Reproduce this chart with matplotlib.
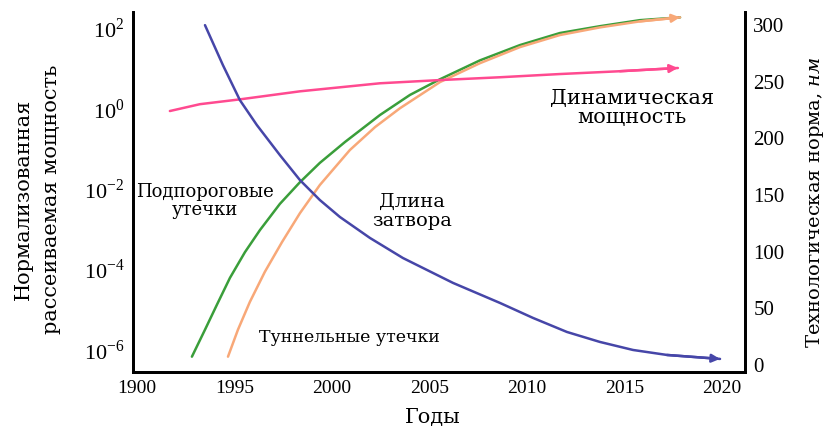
import matplotlib
matplotlib.use("Agg")
import matplotlib.pyplot as plt
import numpy as np

plt.rcParams['font.family'] = ['Liberation Serif', 'DejaVu Serif']
plt.rcParams['mathtext.fontset'] = 'custom'
plt.rcParams['mathtext.rm'] = 'Liberation Serif'
plt.rcParams['mathtext.it'] = 'DejaVu Serif:italic'
WIDE = ['DejaVu Serif']

# gate length, nm (right axis)
gate_years = [1993.49, 1994.41, 1995.28, 1996.15, 1997.33, 1998.36, 1999.38,
              2000.41, 2001.95, 2003.64, 2006.21, 2008.62, 2010.31, 2012.05,
              2013.74, 2015.44, 2017.18, 2019.90]
gate_nm = [300, 264.7, 233.8, 211.8, 185.3, 163.2, 145.6, 130.6, 112.1, 94.4,
           72.4, 54.7, 41.5, 29.1, 20.3, 13.2, 8.8, 5.3]

# subthreshold leakage, log10 of normalized power (left axis)
sub_years = [1992.82, 1993.49, 1994.10, 1994.77, 1995.54, 1996.31, 1997.33,
             1998.36, 1999.38, 2000.67, 2002.46, 2004.00, 2005.54, 2007.59,
             2009.64, 2011.69, 2013.74, 2015.79, 2017.85]
sub_log = [-6.17, -5.50, -4.88, -4.21, -3.57, -3.02, -2.37, -1.83, -1.35, -0.83,
           -0.16, 0.34, 0.73, 1.20, 1.58, 1.88, 2.05, 2.20, 2.27]

# tunnel leakage
tun_years = [1994.67, 1995.18, 1995.79, 1996.56, 1997.44, 1998.36, 1999.38,
             2000.92, 2002.21, 2003.49, 2005.54, 2007.59, 2009.64, 2011.69,
             2013.74, 2015.79, 2017.85]
tun_log = [-6.17, -5.50, -4.81, -4.06, -3.32, -2.60, -1.90, -1.03, -0.46, 0.01,
           0.66, 1.13, 1.53, 1.83, 2.02, 2.17, 2.27]

# dynamic power
dyn_years = [1991.69, 1993.23, 1995.28, 1998.36, 2002.46, 2005.54, 2008.62,
             2011.69, 2014.77, 2017.74]
dyn_log = [-0.06, 0.11, 0.23, 0.43, 0.63, 0.71, 0.78, 0.86, 0.93, 1.01]

x_ticks = [1990, 1995, 2000, 2005, 2010, 2015, 2020]
x_labels = ['1900', '1995', '2000', '2005', '2010', '2015', '2020']
left_ticks = [1e-6, 1e-4, 1e-2, 1e0, 1e2]
left_labels = ['$10^{-6}$', '$10^{-4}$', '$10^{-2}$', '$10^{0}$', '$10^{2}$']
right_ticks = [0, 50, 100, 150, 200, 250, 300]

c_blue = '#4646a8'
c_green = '#3a9e3a'
c_orange = '#f8a878'
c_pink = '#ff4a90'

fig = plt.figure(figsize=(8.25, 4.33), dpi=100)
ax = fig.add_axes([0.161, 0.141, 0.742, 0.831])
ax2 = ax.twinx()


def draw(axis, xs, ys, color, arrow):
    axis.plot(xs, ys, color=color, lw=1.8, solid_capstyle='round',
              solid_joinstyle='round')
    if arrow:
        axis.annotate('', xy=(xs[-1], ys[-1]), xytext=(xs[-2], ys[-2]),
                      arrowprops=dict(arrowstyle='-|>', color=color, lw=1.8,
                                      mutation_scale=12, shrinkA=0, shrinkB=0))


draw(ax, sub_years, 10 ** np.array(sub_log), c_green, False)
draw(ax, tun_years, 10 ** np.array(tun_log), c_orange, True)
draw(ax, dyn_years, 10 ** np.array(dyn_log), c_pink, True)
draw(ax2, gate_years, gate_nm, c_blue, True)

ax.set_yscale('log')
ax.set_xlim(1989.79, 2021.18)
ax.set_ylim(10 ** -6.55, 10 ** 2.4)
ax2.set_ylim(-6.2, 311.5)

ax.set_xticks(x_ticks)
ax.set_xticklabels(x_labels, fontsize=14)
ax.set_yticks(left_ticks)
ax.set_yticklabels(left_labels, fontsize=16)
ax.minorticks_off()
ax2.set_yticks(right_ticks)
ax2.set_yticklabels([str(v) for v in right_ticks], fontsize=15)

for a in (ax, ax2):
    a.tick_params(length=0, pad=6)
    a.spines['top'].set_visible(False)
    for s in ('left', 'right', 'bottom'):
        a.spines[s].set_linewidth(2)

fig.text(0.525, 0.035, 'Годы', family=WIDE, fontsize=15, ha='center', va='center')
fig.text(0.045, 0.54, 'Нормализованная\nрассеиваемая мощность', family=WIDE,
         rotation=90, ha='center', va='center', fontsize=15, linespacing=1.6)
fig.text(0.988, 0.533, 'Технологическая норма, $\\mathit{нм}$', family=WIDE,
         rotation=90, ha='center', va='center', fontsize=14)

ax.text(1993.5, 10 ** -2.3, 'Подпороговые\nутечки', family=WIDE, ha='center',
        va='center', fontsize=13, linespacing=1.0)
ax.text(2004.1, 10 ** -2.55, 'Длина\nзатвора', family=WIDE, ha='center',
        va='center', fontsize=14, linespacing=1.1)
ax.text(2015.4, 10 ** 0.01, 'Динамическая\nмощность', family=WIDE, ha='center',
        va='center', fontsize=15, linespacing=1.0)
ax.text(2000.9, 10 ** -5.7, 'Туннельные утечки', family=WIDE, ha='center',
        va='center', fontsize=12.5)

fig.savefig('out.png', dpi=100)
